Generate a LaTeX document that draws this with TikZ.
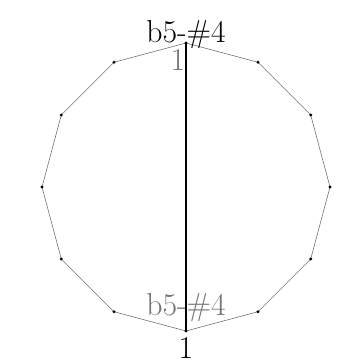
\documentclass[tikz,border=0pt]{standalone}
\usepackage{fontspec}
\usepackage{tikz}
\usetikzlibrary{arrows.meta}

\begin{document}
\begin{tikzpicture}[x=1pt,y=-1pt]
  \tikzset{
    dot/.style={circle,fill=black,inner sep=0pt,minimum size=3.2pt},
    edge/.style={black!55,line width=0.6pt},
    lab/.style={inner sep=0pt,font=\fontsize{31.7}{38}\selectfont}
  }
  \useasboundingbox (0,0) rectangle (362,363);
  \foreach \i in {0,...,11} {
    \pgfmathsetmacro{\ang}{90+30*\i}
    \coordinate (p\i) at ({186+144*cos(\ang)},{187-144*sin(\ang)});}
  \foreach \i in {0,...,11} {
    \pgfmathtruncatemacro{\j}{mod(\i+1,12)}
    \draw[edge] (p\i) -- (p\j);}
  \draw[black,line width=1.1pt] (p0) -- (p6);
  \foreach \i in {0,...,11} {
    \node[dot] (v\i) at (p\i) {};}
  % labels at the two ends
  \node[lab,anchor=base] (topname) at (v0.center) {b5-\smash{\#}4};
  \node[lab,anchor=north,text=black!55] (topnum) at ([xshift=-8pt,yshift=-6pt]v0.center) {1};
  \node[lab,anchor=base,text=black!55] (botname) at ([yshift=16pt]v6.center) {b5-\smash{\#}4};
  \node[lab,anchor=north] (botnum) at ([yshift=-6pt]v6.center) {1};
\end{tikzpicture}
\end{document}
